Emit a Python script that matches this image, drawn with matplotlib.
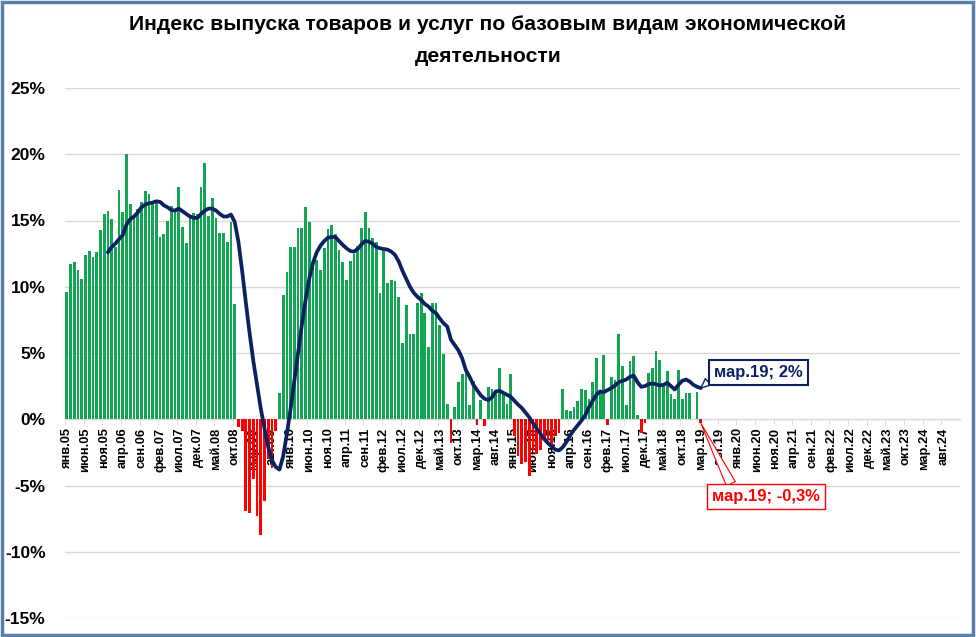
import numpy as np
import matplotlib
matplotlib.use('Agg')
import matplotlib.pyplot as plt
from matplotlib.patches import Rectangle

plt.rcParams['font.family'] = ['Liberation Sans', 'DejaVu Sans']

# month names for the category axis
months_ru = ['янв', 'фев', 'мар', 'апр', 'май', 'июн',
             'июл', 'авг', 'сен', 'окт', 'ноя', 'дек']
start_year = 2005
n_axis = 240  # янв.05 .. дек.24

# monthly index, янв.05 .. мар.19, %
index_values = [
    9.6, 11.7, 11.9, 11.25, 10.6, 12.4, 12.7, 12.25, 12.6, 14.25,
    15.5, 15.7, 15.1, 13.0, 17.3, 15.65, 20.0, 16.25, 15.3, 15.9,
    16.4, 17.2, 17.0, 16.4, 16.4, 13.75, 14.0, 15.0, 16.1, 15.7,
    17.5, 14.5, 13.3, 15.3, 15.6, 15.5, 17.5, 19.35, 15.35, 16.7,
    15.2, 14.05, 14.05, 13.4, 14.9, 8.7, -0.55, -0.9, -6.9, -7.1,
    -4.5, -7.3, -8.7, -6.2, -3.0, -3.7, -0.85, 2.0, 9.4, 11.15,
    13.0, 13.0, 14.45, 14.45, 16.0, 14.85, 12.05, 12.05, 11.3, 12.95,
    14.35, 14.65, 14.0, 12.8, 11.85, 10.5, 11.95, 12.45, 13.1, 14.45,
    15.65, 14.45, 13.65, 13.35, 9.55, 12.85, 10.25, 10.5, 10.45, 9.25,
    5.75, 8.6, 6.45, 6.45, 8.8, 9.55, 8.0, 5.45, 8.75, 8.75,
    7.15, 4.9, 1.15, -1.8, 0.9, 2.8, 3.4, 3.9, 1.1, 2.85,
    -0.45, 1.45, -0.5, 2.4, 2.25, 2.0, 3.9, 1.9, 1.15, 3.45,
    -1.3, -2.8, -3.4, -3.2, -4.3, -2.3, -2.6, -2.3, -1.5, -1.6,
    -2.0, -1.3, -1.0, 2.3, 0.7, 0.6, 0.9, 1.4, 2.3, 2.2,
    1.55, 2.8, 4.6, 2.15, 4.85, -0.45, 3.2, 3.0, 6.4, 4.0,
    1.1, 4.4, 4.75, 0.3, -1.0, -0.3, 3.5, 3.9, 5.15, 4.5,
    2.5, 3.65, 1.9, 1.55, 3.7, 1.55, 1.95, 2.0, 0.0, 2.05,
    -0.3,
]

# smoothed trend, дек.05 .. мар.19, %
trend_start = 11
trend_values = [
    12.6, 13.0, 13.25, 13.6, 13.9, 14.7, 15.1, 15.3, 15.6, 16.0,
    16.2, 16.3, 16.35, 16.45, 16.4, 16.15, 16.0, 15.8, 15.75, 15.9,
    15.7, 15.5, 15.3, 15.2, 15.2, 15.5, 15.75, 15.9, 15.9, 15.75,
    15.5, 15.3, 15.3, 15.45, 14.9, 13.4, 11.2, 8.8, 6.5, 4.4,
    2.6, 0.8, -0.7, -2.1, -3.1, -3.6, -3.8, -2.8, -1.1, 0.8,
    2.9, 5.0, 7.1, 9.0, 10.6, 11.8, 12.6, 13.1, 13.45, 13.7,
    13.75, 13.75, 13.45, 13.15, 12.9, 12.7, 12.65, 12.85, 13.2, 13.45,
    13.4, 13.25, 13.0, 12.9, 12.85, 12.8, 12.65, 12.4, 11.9, 11.2,
    10.6, 10.0, 9.55, 9.25, 9.0, 8.7, 8.5, 8.2, 8.0, 7.6,
    7.25, 7.0, 6.0, 5.6, 5.2, 4.6, 3.7, 3.2, 2.6, 2.2,
    1.8, 1.55, 1.45, 1.65, 2.1, 2.15, 2.0, 1.85, 1.7, 1.4,
    1.1, 0.85, 0.5, 0.15, -0.3, -0.7, -1.1, -1.5, -1.8, -2.05,
    -2.3, -2.35, -2.1, -1.7, -1.2, -0.8, -0.45, -0.1, 0.3, 0.9,
    1.4, 1.85, 2.1, 2.05, 2.2, 2.35, 2.55, 2.8, 2.9, 3.0,
    3.2, 3.3, 2.8, 2.45, 2.5, 2.65, 2.7, 2.65, 2.55, 2.6,
    2.75, 2.5, 2.25, 2.6, 2.9, 3.0, 2.85, 2.6, 2.45, 2.35,
]

y_ticks = [-15, -10, -5, 0, 5, 10, 15, 20, 25]
title_lines = ['Индекс выпуска товаров и услуг по базовым видам экономической',
               'деятельности']
trend_label = 'мар.19; 2%'
index_label = 'мар.19; -0,3%'

green = '#12a552'
red = '#ff0000'
navy = '#0b2161'

labels = ['%s.%02d' % (months_ru[k % 12], (start_year + k // 12) % 100) for k in range(n_axis)]

fig = plt.figure(figsize=(9.76, 6.37), dpi=100)
ax = fig.add_axes([65 / 976, 1 - 618 / 637, 895 / 976, 530 / 637])

x = np.arange(len(index_values))
vals = np.array(index_values)
colors = [green if v >= 0 else red for v in vals]
ax.bar(x, vals, width=0.74, color=colors, zorder=2)

xt = np.arange(trend_start, trend_start + len(trend_values))
ax.plot(xt, trend_values, color=navy, lw=2.7, zorder=4, solid_capstyle='round')

ax.set_xlim(-0.5, n_axis - 0.5)
ax.set_ylim(-15, 25)
ax.set_yticks(y_ticks)
ax.set_yticklabels(['%d%%' % v for v in y_ticks], fontsize=12.5, fontweight='bold')
ax.tick_params(axis='y', length=0, pad=14)
ax.yaxis.grid(True, color='#d9d9d9', lw=1)
ax.set_axisbelow(True)

for s in ['top', 'right', 'left']:
    ax.spines[s].set_visible(False)
ax.spines['bottom'].set_position(('data', 0))
ax.spines['bottom'].set_color('#d9d9d9')
ax.spines['bottom'].set_zorder(1)

tick_pos = np.arange(0, n_axis, 5)
ax.set_xticks(tick_pos)
ax.set_xticklabels([labels[k] for k in tick_pos], rotation=90, fontsize=9.3,
                   fontweight='bold', va='top', ha='center')
ax.tick_params(axis='x', length=0, pad=6)
ax.set_xticks(tick_pos - 0.5, minor=True)
ax.tick_params(axis='x', which='minor', length=4, color='#d9d9d9')
for t in ax.get_xticklabels():
    t.set_zorder(3)

# callouts at the last month
last = len(index_values) - 1
ax.annotate(trend_label, xy=(xt[-1], trend_values[-1]), xytext=(173.5, 3.55),
            textcoords='data', ha='left', va='center', fontsize=12, fontweight='bold',
            color=navy, zorder=6,
            bbox=dict(boxstyle='square,pad=0.3', fc='white', ec=navy, lw=1.5),
            arrowprops=dict(arrowstyle='wedge,tail_width=0.5', fc='white', ec=navy,
                            lw=1, shrinkA=0, shrinkB=0, relpos=(0.0, 0.2)))
ax.annotate(index_label, xy=(last, vals[last]), xytext=(173, -5.85),
            textcoords='data', ha='left', va='center', fontsize=12, fontweight='bold',
            color=red, zorder=6,
            bbox=dict(boxstyle='square,pad=0.3', fc='white', ec=red, lw=1),
            arrowprops=dict(arrowstyle='wedge,tail_width=0.6', fc='white', ec=red,
                            lw=0.8, shrinkA=0, shrinkB=0, relpos=(0.2, 1.0)))

fig.text(0.5, 1 - 25 / 637, title_lines[0], ha='center', va='center', fontsize=15.2,
         fontweight='bold')
fig.text(0.5, 1 - 57 / 637, title_lines[1], ha='center', va='center', fontsize=15.2,
         fontweight='bold')

fig.patches.append(Rectangle((0.002, 0.003), 0.995, 0.994, transform=fig.transFigure,
                             fill=False, ec='#5a7fa8', lw=2.5))

fig.savefig('out.png', dpi=100)
